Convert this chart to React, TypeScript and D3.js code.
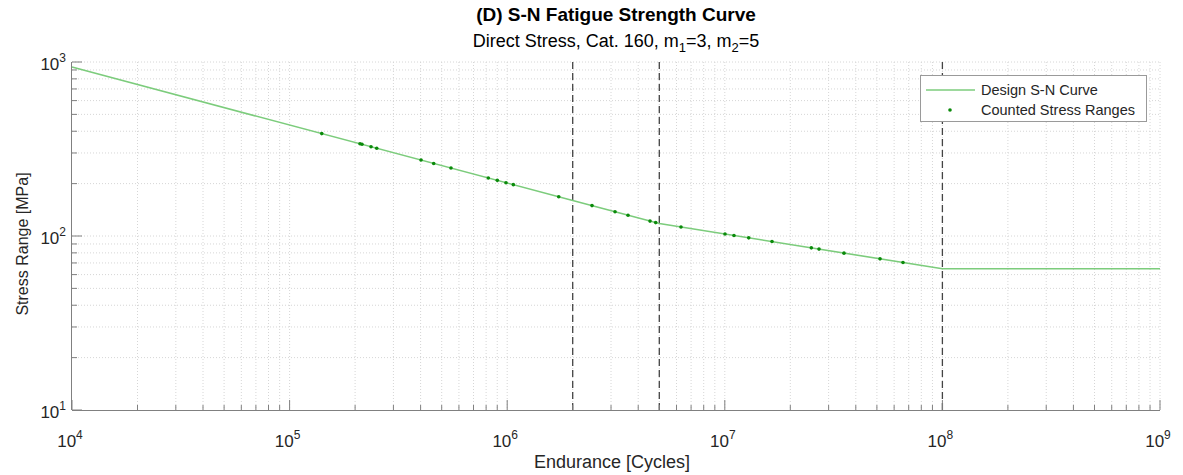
import React from "react";
import * as d3 from "d3";

// Design S-N curve breakpoints (cycles, stress range MPa)
const curveN = [1e4, 2e6, 5e6, 1e8, 1e9];
const curveS = [935.6, 160, 117.9, 64.8, 64.8];

// Counted stress ranges (cycles, MPa)
const countedN = [
  1.405e5, 2.106e5, 2.151e5, 2.367e5, 2.514e5, 4.018e5, 4.594e5, 5.516e5,
  8.188e5, 9.006e5, 9.874e5, 1.067e6, 1.725e6, 2.453e6, 3.13e6, 3.591e6,
  4.533e6, 4.813e6, 6.29e6, 1.002e7, 1.102e7, 1.288e7, 1.648e7, 2.498e7,
  2.71e7, 3.53e7, 5.168e7, 6.59e7,
];
const countedS = [
  387.8, 338.9, 336.5, 325.8, 319.4, 273.2, 261.2, 245.8, 215.5, 208.8,
  202.4, 197.3, 168.1, 149.5, 137.8, 131.6, 121.8, 119.4, 112.6, 102.6,
  100.7, 97.6, 92.9, 85.5, 84.1, 79.7, 73.9, 70.4,
];

// Reference vertical lines (cycles)
const refLinesN = [2e6, 5e6, 1e8];

const xDecades = [4, 5, 6, 7, 8, 9];
const yDecades = [1, 2, 3];

const titleText = "(D) S-N Fatigue Strength Curve";
const xLabel = "Endurance [Cycles]";
const yLabel = "Stress Range [MPa]";
const legendLabels = ["Design S-N Curve", "Counted Stress Ranges"];

const W = 1183;
const H = 475;
const L = 72, R = 1160, T = 62, B = 410;
const FONT = "'Liberation Sans', Arial, Helvetica, sans-serif";

export default function App() {
  const x = d3.scaleLog().domain([1e4, 1e9]).range([L, R]);
  const y = d3.scaleLog().domain([10, 1000]).range([B, T]);

  const minorX: number[] = [];
  for (let e = 4; e < 9; e++) for (let k = 2; k <= 9; k++) minorX.push(k * Math.pow(10, e));
  const minorY: number[] = [];
  for (let e = 1; e < 3; e++) for (let k = 2; k <= 9; k++) minorY.push(k * Math.pow(10, e));
  const majorX = xDecades.map((d) => Math.pow(10, d));
  const majorY = yDecades.map((d) => Math.pow(10, d));

  const line = d3
    .line<number>()
    .x((_, i) => x(curveN[i]))
    .y((d) => y(d));

  const gridColor = "#d6d6d6";
  const axisColor = "#808080";
  const textColor = "#262626";

  return (
    <svg width={W} height={H} style={{ display: "block", position: "absolute", left: 0, top: 0, background: "#fff" }} fontFamily={FONT}>
      {/* grid */}
      <g stroke={gridColor} strokeWidth={1} strokeDasharray="1,2">
        {[...majorX, ...minorX].filter((v) => v > 1e4).map((v, i) => (
          <line key={"gx" + i} x1={x(v)} x2={x(v)} y1={T} y2={B} />
        ))}
        {[...majorY, ...minorY].filter((v) => v > 10).map((v, i) => (
          <line key={"gy" + i} x1={L} x2={R} y1={y(v)} y2={y(v)} />
        ))}
      </g>

      {/* reference dashed lines */}
      <g stroke="#444" strokeWidth={1.3} strokeDasharray="7,4">
        {refLinesN.map((n, i) => (
          <line key={"ref" + i} x1={x(n)} x2={x(n)} y1={T} y2={B} />
        ))}
      </g>

      {/* curve */}
      <path d={line(curveS) || ""} fill="none" stroke="#7ccc7c" strokeWidth={1.6} />

      {/* counted points */}
      <g fill="#0a8a0a">
        {countedN.map((n, i) => (
          <circle key={"p" + i} cx={x(n)} cy={y(countedS[i])} r={1.8} />
        ))}
      </g>

      {/* axes */}
      <g stroke={axisColor} strokeWidth={1}>
        <line x1={L} x2={R} y1={B + 0.5} y2={B + 0.5} />
        <line x1={L - 0.5} x2={L - 0.5} y1={T} y2={B} />
        {majorX.map((v, i) => (
          <line key={"mx" + i} x1={x(v)} x2={x(v)} y1={B} y2={B - 10} />
        ))}
        {minorX.map((v, i) => (
          <line key={"nx" + i} x1={x(v)} x2={x(v)} y1={B} y2={B - 5} />
        ))}
        {majorY.map((v, i) => (
          <line key={"my" + i} x1={L} x2={L + 10} y1={y(v)} y2={y(v)} />
        ))}
        {minorY.map((v, i) => (
          <line key={"ny" + i} x1={L} x2={L + 5} y1={y(v)} y2={y(v)} />
        ))}
      </g>

      {/* x tick labels */}
      <g fill={textColor} fontSize={17}>
        {xDecades.map((d, i) => (
          <text key={"xl" + i} x={x(Math.pow(10, d)) - 2} y={B + 37} textAnchor="middle">
            10<tspan fontSize={12} dy={-8}>{d}</tspan>
          </text>
        ))}
      </g>
      {/* y tick labels */}
      <g fill={textColor} fontSize={17}>
        {yDecades.map((d, i) => (
          <text key={"yl" + i} x={L - 6} y={y(Math.pow(10, d)) + 8} textAnchor="end">
            10<tspan fontSize={12} dy={-8}>{d}</tspan>
          </text>
        ))}
      </g>

      {/* axis labels */}
      <text x={(L + R) / 2 - 4} y={468} textAnchor="middle" fontSize={18} fill={textColor}>
        {xLabel}
      </text>
      <text
        transform={`translate(28, ${(T + B) / 2 + 8}) rotate(-90)`}
        textAnchor="middle"
        fontSize={16}
        fill={textColor}
      >
        {yLabel}
      </text>

      {/* title */}
      <text x={(L + R) / 2} y={21} textAnchor="middle" fontSize={19} fontWeight="bold" fill="#000">
        {titleText}
      </text>
      <text x={(L + R) / 2} y={47} textAnchor="middle" fontSize={18} fill="#000">
        Direct Stress, Cat. 160, m<tspan fontSize={13} dy={5}>1</tspan>
        <tspan dy={-5}>=3, m</tspan>
        <tspan fontSize={13} dy={5}>2</tspan>
        <tspan dy={-5}>=5</tspan>
      </text>

      {/* legend */}
      <g>
        <rect x={920.5} y={75.5} width={226} height={46} fill="#fff" stroke="#9a9a9a" strokeWidth={1} />
        <line x1={926} x2={975} y1={90} y2={90} stroke="#7ccc7c" strokeWidth={1.6} />
        <circle cx={950} cy={110} r={1.8} fill="#0a8a0a" />
        <text x={981} y={95} fontSize={14.5} fill={textColor}>{legendLabels[0]}</text>
        <text x={981} y={115} fontSize={14.5} fill={textColor}>{legendLabels[1]}</text>
      </g>
    </svg>
  );
}
